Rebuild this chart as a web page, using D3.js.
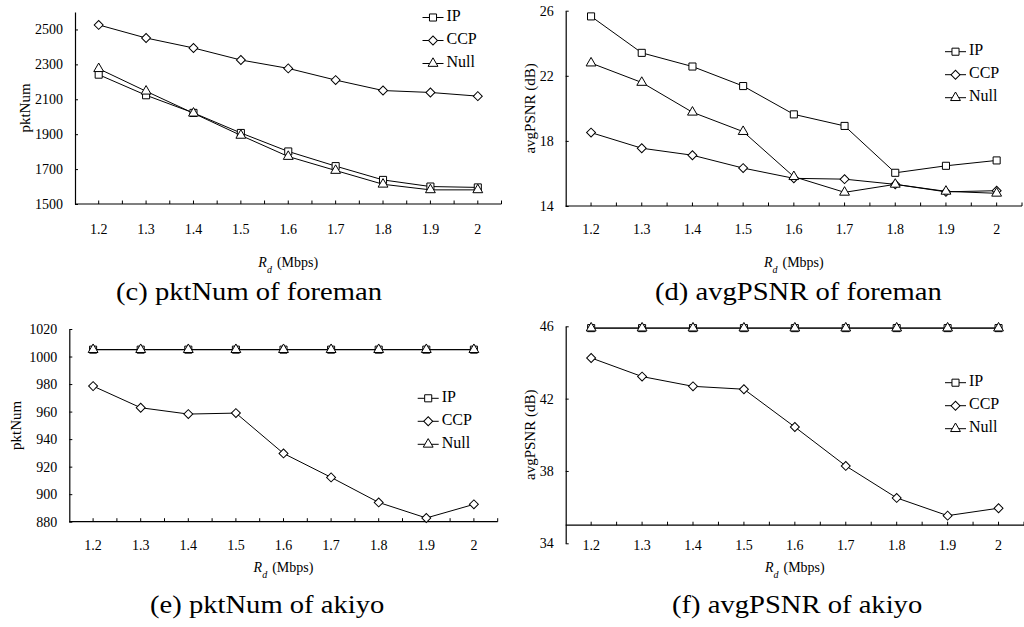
<!DOCTYPE html>
<html>
<head>
<meta charset="utf-8">
<script src="https://cdn.jsdelivr.net/npm/d3@7"></script>
<style>
  html, body { margin: 0; padding: 0; background: #fff; }
  svg { display: block; }
</style>
</head>
<body>
<svg id="chart" width="1024" height="627"></svg>
<script>
// ---------------- data ----------------
const categories = ["1.2", "1.3", "1.4", "1.5", "1.6", "1.7", "1.8", "1.9", "2"];
const seriesNames = ["IP", "CCP", "Null"];

// (c) pktNum of foreman
const pktForemanIP   = [2241, 2123, 2022, 1907, 1801, 1717, 1638, 1600, 1595];
const pktForemanCCP  = [2526, 2451, 2394, 2325, 2277, 2210, 2150, 2139, 2118];
const pktForemanNull = [2275, 2146, 2020, 1893, 1772, 1692, 1613, 1581, 1581];
const pktForemanTicks = [1500, 1700, 1900, 2100, 2300, 2500];

// (d) avgPSNR of foreman
const psnrForemanIP   = [25.65, 23.41, 22.57, 21.37, 19.63, 18.92, 16.04, 16.47, 16.80];
const psnrForemanCCP  = [18.51, 17.55, 17.12, 16.33, 15.70, 15.65, 15.33, 14.87, 14.94];
const psnrForemanNull = [22.78, 21.59, 19.76, 18.57, 15.80, 14.84, 15.33, 14.90, 14.78];
const psnrForemanTicks = [14, 18, 22, 26];

// (e) pktNum of akiyo
const pktAkiyoIP   = [1005, 1005, 1005, 1005, 1005, 1005, 1005, 1005, 1005];
const pktAkiyoCCP  = [978.5, 962.8, 958.2, 958.9, 929.6, 912.2, 894, 882.7, 892.6];
const pktAkiyoNull = [1005, 1005, 1005, 1005, 1005, 1005, 1005, 1005, 1005];
const pktAkiyoTicks = [880, 900, 920, 940, 960, 980, 1000, 1020];

// (f) avgPSNR of akiyo
const psnrAkiyoIP   = [45.9, 45.9, 45.9, 45.9, 45.9, 45.9, 45.9, 45.9, 45.9];
const psnrAkiyoCCP  = [44.25, 43.22, 42.68, 42.52, 40.43, 38.28, 36.51, 35.53, 35.94];
const psnrAkiyoNull = [45.9, 45.9, 45.9, 45.9, 45.9, 45.9, 45.9, 45.9, 45.9];
const psnrAkiyoTicks = [34, 38, 42, 46];

const captions = ["(c) pktNum of foreman", "(d) avgPSNR of foreman", "(e) pktNum of akiyo", "(f) avgPSNR of akiyo"];
const yTitles = ["pktNum", "avgPSNR (dB)", "pktNum", "avgPSNR (dB)"];

// ---------------- layout ----------------
const FONT = '"Liberation Serif", "Times New Roman", "DejaVu Serif", serif';
const svg = d3.select("#chart");

const panels = [
  { series: [pktForemanIP, pktForemanCCP, pktForemanNull], ticks: pktForemanTicks,
    x0: 75, x1: 501.5, domain: [1500, 2600], yBottom: 204, yTop: 12, cross: 1500,
    labelY: 231, xTitleY: 267, capX: 116, capY: 300, yTitleX: 27,
    legX: 422.5, legY: 17.5, title: yTitles[0], caption: captions[0] },
  { series: [psnrForemanIP, psnrForemanCCP, psnrForemanNull], ticks: psnrForemanTicks,
    x0: 565.7, x1: 1022, domain: [14, 26], yBottom: 206, yTop: 10.7, cross: 14,
    labelY: 231, xTitleY: 267, capX: 655, capY: 300, yTitleX: 532,
    legX: 945, legY: 51.7, title: yTitles[1], caption: captions[1] },
  { series: [pktAkiyoIP, pktAkiyoCCP, pktAkiyoNull], ticks: pktAkiyoTicks,
    x0: 69.3, x1: 497.7, domain: [880, 1020], yBottom: 521.7, yTop: 329, cross: 880,
    labelY: 547, xTitleY: 572, capX: 150, capY: 613, yTitleX: 18,
    legX: 417.7, legY: 398.3, title: yTitles[2], caption: captions[2] },
  { series: [psnrAkiyoIP, psnrAkiyoCCP, psnrAkiyoNull], ticks: psnrAkiyoTicks,
    x0: 565.7, x1: 1024, domain: [34, 46], yBottom: 543.3, yTop: 326.3, cross: 35,
    labelY: 547, xTitleY: 572, capX: 672, capY: 613, yTitleX: 532,
    legX: 945, legY: 382.7, title: yTitles[3], caption: captions[3] }
];

const markerFor = [
  d3.symbol().type(d3.symbolSquare).size(50)(),
  d3.symbol().type(d3.symbolSquare).size(40)(),   // rotated 45° => diamond
  d3.symbol().type(d3.symbolTriangle).size(42)()
];
const markerRot = [0, 45, 0];

function drawMarker(g, i, cx, cy) {
  g.append("path")
    .attr("d", markerFor[i])
    .attr("transform", `translate(${cx},${cy}) rotate(${markerRot[i]})`)
    .attr("fill", "#fff")
    .attr("stroke", "#000")
    .attr("stroke-width", 1);
}

function txt(g) {
  return g.append("text").attr("font-family", FONT).attr("fill", "#000");
}

panels.forEach(p => {
  const g = svg.append("g");
  const x = d3.scalePoint().domain(categories).range([p.x0, p.x1]).padding(0.5);
  const y = d3.scaleLinear().domain(p.domain).range([p.yBottom, p.yTop]);
  const axisY = y(p.cross);

  // y axis (ticks inside)
  const yAxis = d3.axisLeft(y).tickValues(p.ticks).tickFormat(d3.format("d"))
    .tickSize(-3).tickSizeOuter(0).tickPadding(12);
  const ya = g.append("g").attr("transform", `translate(${p.x0},0)`).call(yAxis)
    .attr("font-family", FONT).attr("font-size", 14);
  ya.select(".domain").attr("stroke", "#000").attr("stroke-width", 1.2);
  ya.selectAll(".tick line").attr("stroke", "#000");
  ya.selectAll(".tick text").attr("fill", "#000");

  // x axis line
  g.append("line").attr("x1", p.x0).attr("x2", p.x1).attr("y1", axisY).attr("y2", axisY)
    .attr("stroke", "#000").attr("stroke-width", 1.2);
  // ticks at category centres and boundaries, pointing up
  const half = x.step() / 2;
  const tickPos = d3.range(1, categories.length * 2 + 1).map(k => p.x0 + k * half);
  g.selectAll(null).data(tickPos).enter().append("line")
    .attr("x1", d => d).attr("x2", d => d)
    .attr("y1", axisY).attr("y2", axisY - 3.5)
    .attr("stroke", "#000");
  // x tick labels
  g.selectAll(null).data(categories).enter().append("text")
    .attr("font-family", FONT).attr("fill", "#000")
    .attr("x", d => x(d)).attr("y", p.labelY)
    .attr("text-anchor", "middle").attr("dominant-baseline", "middle")
    .attr("font-size", 14).text(d => d);

  // x title
  const xt = txt(g).attr("x", (p.x0 + p.x1) / 2).attr("y", p.xTitleY)
    .attr("text-anchor", "middle").attr("font-size", 14);
  xt.append("tspan").attr("font-style", "italic").text("R");
  xt.append("tspan").attr("font-style", "italic").attr("baseline-shift", "sub").attr("font-size", 10).text("d");
  xt.append("tspan").attr("dx", 5).text("(Mbps)");

  // y title
  txt(g)
    .attr("transform", `translate(${p.yTitleX},${(p.yTop + p.yBottom) / 2}) rotate(-90)`)
    .attr("text-anchor", "middle").attr("dominant-baseline", "middle")
    .attr("font-size", 15).text(p.title);

  // lines
  const line = d3.line().x((d, i) => x(categories[i])).y(d => y(d));
  p.series.forEach(vals => {
    g.append("path").attr("d", line(vals)).attr("fill", "none")
      .attr("stroke", "#000").attr("stroke-width", 1);
  });
  // markers
  p.series.forEach((vals, si) => {
    vals.forEach((v, i) => drawMarker(g, si, x(categories[i]), y(v)));
  });

  // legend
  seriesNames.forEach((name, si) => {
    const ly = p.legY + si * 23;
    g.append("line").attr("x1", p.legX).attr("x2", p.legX + 21).attr("y1", ly).attr("y2", ly)
      .attr("stroke", "#000");
    drawMarker(g, si, p.legX + 10.5, ly);
    txt(g).attr("x", p.legX + 24).attr("y", ly)
      .attr("dominant-baseline", "middle").attr("font-size", 16).text(name);
  });

  // caption (slightly wide, as in the reference)
  txt(g).attr("transform", `translate(${p.capX},${p.capY}) scale(1.1,1)`)
    .attr("font-size", 26).text(p.caption);
});
</script>
</body>
</html>
